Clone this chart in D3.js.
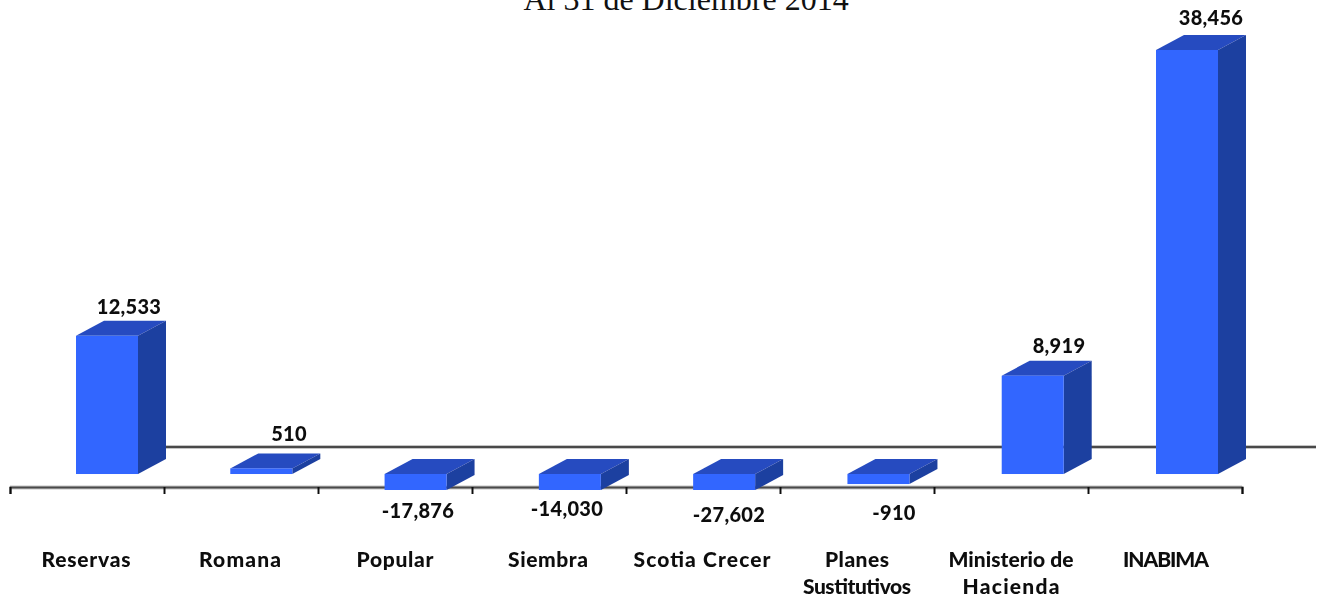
<!DOCTYPE html>
<html><head><meta charset="utf-8">
<script src="https://cdn.jsdelivr.net/npm/d3@7/dist/d3.min.js"></script>
<style>
html,body{margin:0;padding:0;background:#fff;overflow:hidden}
svg{display:block}
.lab{font-family:Lato,"Open Sans",sans-serif;font-weight:900;fill:#111;text-anchor:middle}
.val{font-size:20px;letter-spacing:.3px}
.cat{font-size:21px}
</style></head><body><div id="c"></div>
<script>
const categories=[["Reservas"],["Romana"],["Popular"],["Siembra"],["Scotia Crecer"],["Planes","Sustitutivos"],["Ministerio de","Hacienda"],["INABIMA"]];
const values=[12533,510,-17876,-14030,-27602,-910,8919,38456];
const valueLabels=["12,533","510","-17,876","-14,030","-27,602","-910","8,919","38,456"];
const title="Al 31 de Diciembre 2014";
// label placement tweaks, as hand-placed in the original chart
const labelNudgeX=[42,48,23,18,26,37,48,46];
const labelY=[314,441,518,516,522,520,353,25];
const catNudgeX=[0,0,1,0,0,1,1,2];
const catWidths=[[89],[82],[77],[80],[137],[64,108],[125,97],[86]];

const W=1318,H=600;
const svg=d3.select("#c").append("svg").attr("width",W).attr("height",H);
const defs=svg.append("defs");
defs.append("filter").attr("id","soft").append("feGaussianBlur").attr("stdDeviation",0.5);
defs.append("filter").attr("id","softText").append("feGaussianBlur").attr("stdDeviation",0.3);

const x=d3.scaleBand().domain(d3.range(values.length)).range([10,1242]).paddingInner(0).paddingOuter(0);
const xBar=d3.scaleLinear().domain([0,7]).range([76,1156]);
const tickPos=d3.scaleLinear().domain([0,values.length]).range([10,1242]);
// value axis is truncated at the bottom, so the large negatives are clamped
const y=d3.scaleLinear().domain([-1450,38456]).range([490,50]).clamp(true);
const zero=y(0), depthX=28, depthY=15, barW=62;
const axisY=487;

svg.append("text").attr("x",686).attr("y",10).attr("text-anchor","middle")
  .attr("font-family","Liberation Serif").attr("font-size",32).attr("fill","#111").text(title);

const back=svg.append("g").attr("filter","url(#soft)");
back.append("line").attr("x1",150).attr("x2",1316).attr("y1",zero-27).attr("y2",zero-27).attr("stroke","#c4c4c4").attr("stroke-width",4);
back.append("line").attr("x1",150).attr("x2",1316).attr("y1",zero-27).attr("y2",zero-27).attr("stroke","#484848").attr("stroke-width",2);
back.append("line").attr("x1",10).attr("x2",1242).attr("y1",axisY+.5).attr("y2",axisY+.5).attr("stroke","#c4c4c4").attr("stroke-width",4);

const axisG=back.append("g").attr("transform",`translate(0,${axisY})`)
  .call(d3.axisBottom(tickPos).ticks(values.length).tickSize(7).tickFormat(""));
axisG.select(".domain").attr("stroke","#484848").attr("stroke-width",2);
axisG.selectAll(".tick line").attr("stroke","#111").attr("stroke-width",2);

const bars=svg.append("g").attr("filter","url(#soft)").selectAll("g").data(values).join("g");
const pts=a=>a.map(p=>p.join(",")).join(" ");
bars.each(function(v,i){
  const g=d3.select(this), l=xBar(i), r=l+barW;
  const top=Math.min(y(v),zero), bot=Math.max(y(v),zero);
  g.append("polygon").attr("points",pts([[l,top],[l+depthX,top-depthY],[r+depthX,top-depthY],[r,top]])).attr("fill","#264cc0");
  g.append("polygon").attr("points",pts([[r,top],[r+depthX,top-depthY],[r+depthX,bot-depthY],[r,bot]])).attr("fill","#1f3fa0");
  g.append("rect").attr("x",l).attr("y",top).attr("width",barW).attr("height",bot-top).attr("fill","#3366ff");
});

const tl=svg.append("g").attr("filter","url(#softText)");
tl.selectAll("text").data(valueLabels).join("text").attr("class","lab val")
  .attr("x",(d,i)=>x(i)+x.bandwidth()/2+labelNudgeX[i]).attr("y",(d,i)=>labelY[i]).text(d=>d);

const cl=svg.append("g").attr("filter","url(#softText)");
categories.forEach((c,i)=>{
  c.forEach((t,j)=>cl.append("text").attr("class","lab cat")
    .attr("x",x(i)+x.bandwidth()/2-1+catNudgeX[i]).attr("y",567+j*27)
    .attr("textLength",catWidths[i][j]).attr("lengthAdjust","spacing").text(t));
});
</script></body></html>
